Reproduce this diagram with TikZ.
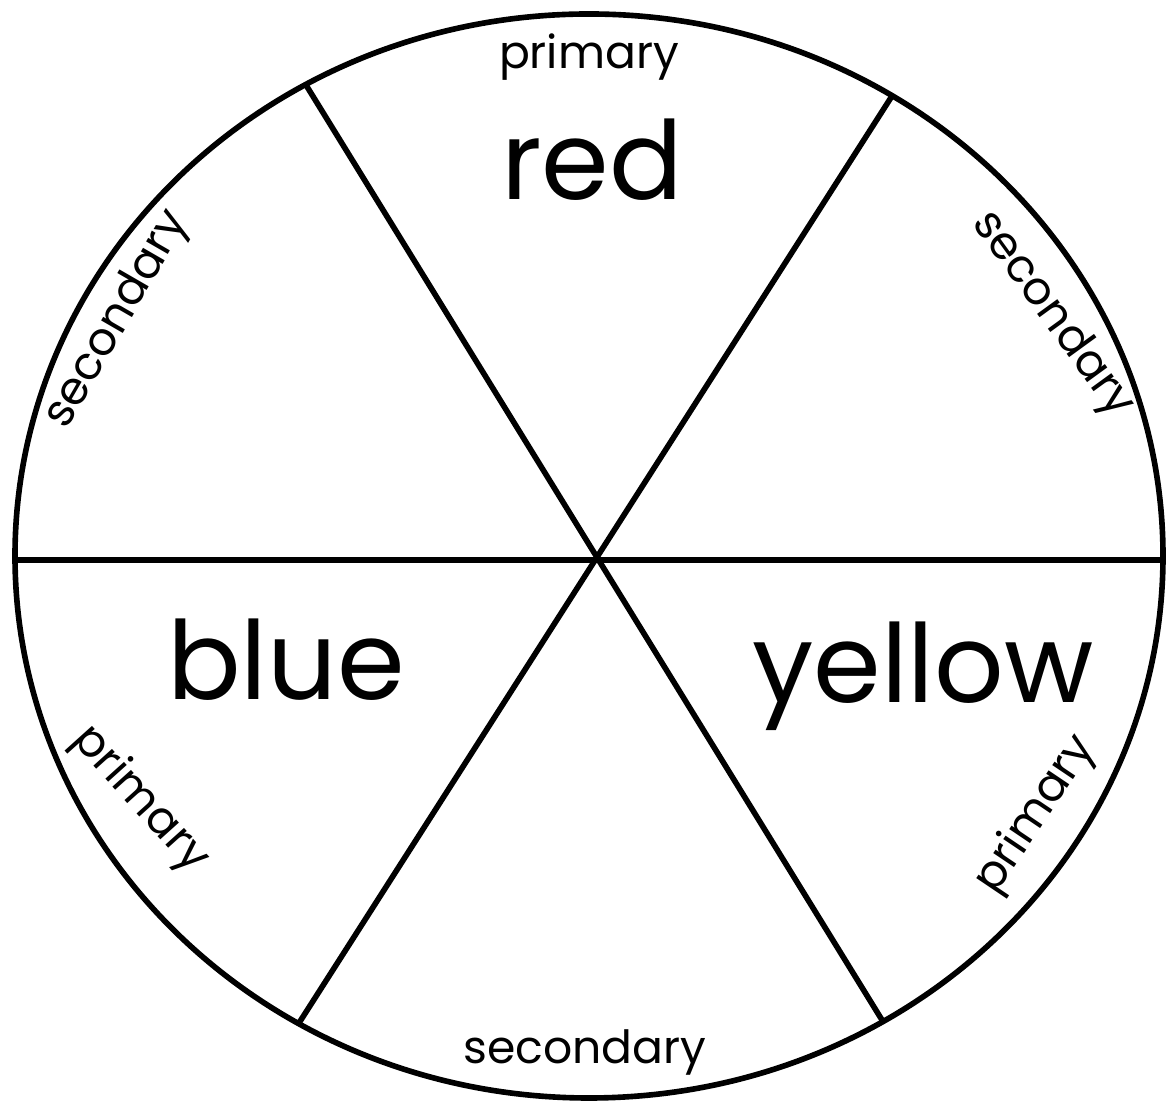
\documentclass[tikz,border=0pt]{standalone}
\usepackage{fontspec}
\setmainfont{Poppins}
\tikzset{
  wheelline/.style={line width=1.6pt, black},
  biglabel/.style={anchor=base, font=\fontsize{31}{31}\selectfont},
  smalllabel/.style={font=\fontsize{13}{13}\selectfont}
}
\begin{document}
\begin{tikzpicture}

            \useasboundingbox (0,0) rectangle (11.66,11.03);

            \draw[wheelline] (5.89,5.47) ellipse [x radius=5.74, y radius=5.42];

            \coordinate (hub) at (6.00,5.43);
            \coordinate (tl) at (3.06,10.18);
            \coordinate (tr) at (8.92,10.07);
            \coordinate (bl) at (2.99,0.80);
            \coordinate (br) at (8.82,0.83);
            \coordinate (le) at (0.15,5.43);
            \coordinate (ri) at (11.63,5.43);

            \draw[wheelline] (le) -- (ri);
            \draw[wheelline] (tl) -- (br);
            \draw[wheelline] (tr) -- (bl);

            \node[biglabel] (red) at (5.92,9.03) {red};
            \node[biglabel] (blue) at (2.86,4.03) {blue};
            \node[biglabel] (yellow) at (9.23,4.00) {yellow};

            \node[smalllabel] (ptop) at (5.89,10.46) {primary};
            \node[smalllabel] (sbot) at (5.85,0.51) {secondary};
            \node[smalllabel, rotate=60] (sleft) at (1.18,7.83) {secondary};
            \node[smalllabel, rotate=-54] (sright) at (10.52,7.88) {secondary};
            \node[smalllabel, rotate=-48] (pleft) at (1.40,3.03) {primary};
            \node[smalllabel, rotate=56] (pright) at (10.36,2.88) {primary};

        \end{tikzpicture}
\end{document}
